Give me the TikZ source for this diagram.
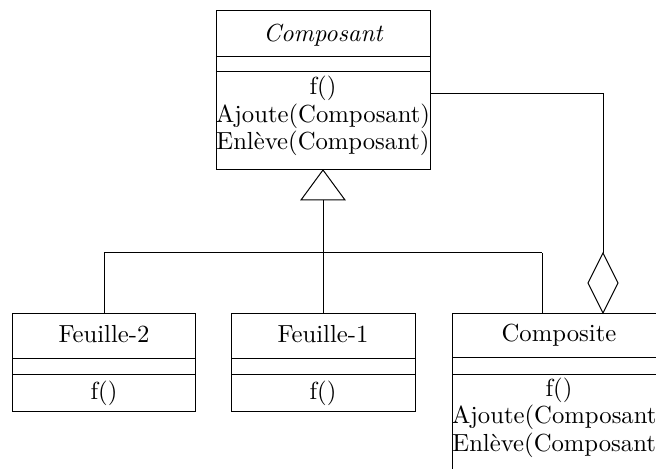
\documentclass[tikz,border=0pt]{standalone}
\begin{document}
\begin{tikzpicture}[x=0.405pt,y=-0.405pt,line width=0.4pt,
  txt/.style={anchor=base,inner sep=0pt,font=\normalsize}]
\useasboundingbox (0,0) rectangle (656,469);
\clip (0,0) rectangle (656,469);

% class Composant
\coordinate (cA) at (216,11);
\coordinate (cB) at (430,170);
\draw (cA) rectangle (cB);
\draw (216,57) -- (430,57);
\draw (216,72) -- (430,72);
\node[txt] (cname) at (323,42) {\itshape Composant};
\node[txt] (cm1) at (323,95) {f()};
\node[txt] (cm2) at (323,123) {Ajoute(Composant)};
\node[txt] (cm3) at (323,150) {Enlève(Composant)};

% class Feuille-2
\draw (12.7,314) rectangle (195,412);
\draw (12.7,359) -- (195,359);
\draw (12.7,375) -- (195,375);
\node[txt] (f2name) at (104,343) {Feuille-2};
\node[txt] (f2m) at (104,400) {f()};

% class Feuille-1
\draw (231.7,314) rectangle (415,412);
\draw (231.7,359) -- (415,359);
\draw (231.7,375) -- (415,375);
\node[txt] (f1name) at (323,343) {Feuille-1};
\node[txt] (f1m) at (323,400) {f()};

% class Composite
\draw (452,314) rectangle (666,474);
\draw (452,358) -- (666,358);
\draw (452,375) -- (666,375);
\node[txt] (kname) at (559,342) {Composite};
\node[txt] (km1) at (559,397) {f()};
\node[txt] (km2) at (559,424) {Ajoute(Composant)};
\node[txt] (km3) at (559,452) {Enlève(Composant)};

% inheritance
\coordinate (apex) at (323,170);
\coordinate (tbase) at (323,200);
\draw (apex) -- (345,200) -- (301,200) -- cycle;
\coordinate (bus) at (323,253);
\draw (tbase) -- (bus);
\draw (104,253) -- (542,253);
\draw (104,253) -- (104,314);
\draw (323,253) -- (323,314);
\draw (542,253) -- (542,314);

% aggregation
\coordinate (dtop) at (603,253);
\draw (430,94) -- (603,94) -- (dtop);
\draw (dtop) -- (618,283) -- (603,313) -- (588,283) -- cycle;
\end{tikzpicture}
\end{document}
